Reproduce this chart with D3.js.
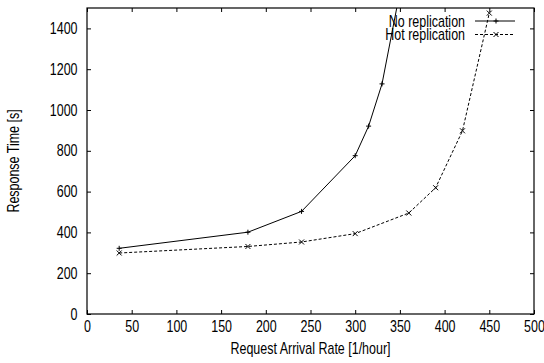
<!DOCTYPE html>
<html>
<head>
<meta charset="utf-8">
<script src="https://cdn.jsdelivr.net/npm/d3@7"></script>
<style>
  body { margin: 0; background: #fff; }
  svg text { font-family: "Liberation Sans", Arial, sans-serif; font-size: 16px; fill: #000; }
</style>
</head>
<body>
<div id="chart"></div>
<script>
// values
const noRepX = [36, 180, 240, 300, 315, 330, 350];
const noRepY = [322, 401, 503, 776, 921, 1128, 1580];
const hotRepX = [36, 180, 240, 300, 360, 390, 420, 450];
const hotRepY = [299, 331, 353, 394, 495, 619, 898, 1475];
const xTicks = [0, 50, 100, 150, 200, 250, 300, 350, 400, 450, 500];
const yTicks = [0, 200, 400, 600, 800, 1000, 1200, 1400];
const seriesNames = ['No replication', 'Hot replication'];

const w = 544, h = 363;
const margin = {top: 8, right: 10, bottom: 49, left: 87};
const width = w - margin.left - margin.right;
const height = h - margin.top - margin.bottom;
const narrow = 0.78; // squeeze text to look like a narrow face

const x = d3.scaleLinear().domain([0, 500]).range([0, width]);
const y = d3.scaleLinear().domain([0, 1500]).range([height, 0]);

const svg = d3.select('#chart').append('svg')
  .attr('width', w).attr('height', h);

const chart = svg.append('g')
  .attr('transform', 'translate(' + margin.left + ',' + margin.top + ')');

svg.append('defs').append('clipPath').attr('id', 'clip')
  .append('rect').attr('width', width).attr('height', height);

// axes with inward ticks, mirrored like gnuplot
const tk = 4;
const xAxisB = chart.append('g')
  .attr('transform', 'translate(0,' + height + ')')
  .call(d3.axisBottom(x).tickValues(xTicks).tickSize(-tk).tickPadding(7).tickFormat(d3.format('d')));
const xAxisT = chart.append('g')
  .call(d3.axisTop(x).tickValues(xTicks).tickSize(-tk).tickFormat(''));
const yAxisL = chart.append('g')
  .call(d3.axisLeft(y).tickValues(yTicks).tickSize(-tk).tickFormat(d3.format('d')));
const yAxisR = chart.append('g')
  .attr('transform', 'translate(' + width + ',0)')
  .call(d3.axisRight(y).tickValues(yTicks).tickSize(-tk).tickFormat(''));

[xAxisB, xAxisT, yAxisL, yAxisR].forEach(a => {
  a.select('.domain').remove();
  a.selectAll('line').attr('stroke', '#000');
  a.selectAll('text').attr('font-size', null).attr('font-family', null)
    .attr('transform', 'scale(' + narrow + ',1)');
});
yAxisL.selectAll('text').attr('x', -9.5 / narrow);

chart.append('rect')
  .attr('width', width).attr('height', height)
  .attr('fill', 'none').attr('stroke', '#000').attr('stroke-width', 1.2);

// labels
svg.append('text')
  .attr('transform', 'translate(' + (margin.left + width / 2) + ',354) scale(' + narrow + ',1)')
  .attr('text-anchor', 'middle')
  .text('Request Arrival Rate [1/hour]');

svg.append('text')
  .attr('transform', 'translate(19,' + (margin.top + height / 2) + ') rotate(-90) scale(' + narrow + ',1)')
  .attr('text-anchor', 'middle')
  .text('Response Time [s]');

const plot = chart.append('g').attr('clip-path', 'url(#clip)');

const line = d3.line().x(d => x(d[0])).y(d => y(d[1]));

const plus = (g, cx, cy, s) => {
  g.append('path').attr('d', `M${cx - s},${cy}H${cx + s}M${cx},${cy - s}V${cy + s}`)
    .attr('stroke', '#000').attr('stroke-width', 1);
};
const cross = (g, cx, cy, s) => {
  g.append('path').attr('d', `M${cx - s},${cy - s}L${cx + s},${cy + s}M${cx - s},${cy + s}L${cx + s},${cy - s}`)
    .attr('stroke', '#000').attr('stroke-width', 1);
};

const noRep = noRepX.map((v, i) => [v, noRepY[i]]);
const hotRep = hotRepX.map((v, i) => [v, hotRepY[i]]);

plot.append('path').datum(noRep)
  .attr('d', line).attr('fill', 'none').attr('stroke', '#000').attr('stroke-width', 1);
plot.append('path').datum(hotRep)
  .attr('d', line).attr('fill', 'none').attr('stroke', '#000').attr('stroke-width', 1)
  .attr('stroke-dasharray', '3,2');

noRep.forEach(d => plus(plot, x(d[0]), y(d[1]), 2.5));
hotRep.forEach(d => cross(plot, x(d[0]), y(d[1]), 2.5));

// legend
const leg = svg.append('g');
const rows = [21, 34.5];
seriesNames.forEach((name, i) => {
  leg.append('text')
    .attr('transform', 'translate(465,' + rows[i] + ') scale(' + narrow + ',1)')
    .attr('dy', '0.35em')
    .attr('text-anchor', 'end')
    .text(name);
  const lp = leg.append('path')
    .attr('d', `M475,${rows[i]}H515`)
    .attr('stroke', '#000').attr('stroke-width', 1);
  if (i === 1) lp.attr('stroke-dasharray', '3,2');
  (i === 0 ? plus : cross)(leg, 496, rows[i], 2.5);
});
</script>
</body>
</html>
